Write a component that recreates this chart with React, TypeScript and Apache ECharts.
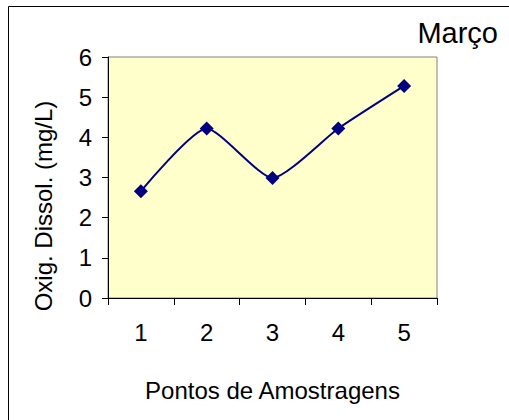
import React, { useEffect, useRef } from "react";
import * as echarts from "echarts";

const categories = ["1", "2", "3", "4", "5"];
const oxygenValues = [2.66, 4.22, 2.99, 4.22, 5.28];
const yMin = 0;
const yMax = 6;
const yInterval = 1;
const titleText = "Março";
const xTitle = "Pontos de Amostragens";
const yTitle = "Oxig. Dissol. (mg/L)";

export default function App() {
  const ref = useRef<HTMLDivElement>(null);
  useEffect(() => {
    if (!ref.current) return;
    const chart = echarts.init(ref.current, null, { renderer: "svg" });
    const font = "'Liberation Sans', Arial, sans-serif";
    chart.setOption({
      animation: false,
      backgroundColor: "#ffffff",
      grid: {
        left: 108,
        top: 57,
        right: 72,
        bottom: 122,
        show: true,
        backgroundColor: "#FFFFCC",
        borderColor: "#808080",
        borderWidth: 1,
      },
      graphic: [
        {
          type: "rect",
          shape: { x: 8.5, y: 6.5, width: 600, height: 600 },
          style: { fill: "none", stroke: "#000000", lineWidth: 1 },
          silent: true,
        },
        {
          type: "text",
          x: 498,
          y: 33,
          style: {
            text: titleText,
            fontFamily: font,
            fontSize: 29,
            fill: "#000000",
            textAlign: "right",
            textVerticalAlign: "middle",
          },
        },
        {
          type: "text",
          x: 43,
          y: 206,
          rotation: Math.PI / 2,
          style: {
            text: yTitle,
            fontFamily: font,
            fontSize: 24,
            fill: "#000000",
            textAlign: "center",
            textVerticalAlign: "middle",
          },
        },
      ],
      xAxis: {
        type: "category",
        data: categories,
        boundaryGap: true,
        name: xTitle,
        nameLocation: "middle",
        nameGap: 80,
        nameTextStyle: { fontFamily: font, fontSize: 24, color: "#000000" },
        axisLine: { show: true, lineStyle: { color: "#000000", width: 1 } },
        axisTick: { show: true, length: 7, lineStyle: { color: "#000000" } },
        axisLabel: { fontFamily: font, fontSize: 24, color: "#000000", margin: 22 },
        splitLine: { show: false },
      },
      yAxis: {
        type: "value",
        min: yMin,
        max: yMax,
        interval: yInterval,
        axisLine: { show: true, lineStyle: { color: "#000000", width: 1 } },
        axisTick: { show: true, length: 6, lineStyle: { color: "#000000" } },
        axisLabel: { fontFamily: font, fontSize: 24, color: "#000000", margin: 16 },
        splitLine: { show: false },
      },
      series: [
        {
          type: "line",
          data: oxygenValues,
          smooth: 0.2,
          symbol: "diamond",
          symbolSize: 14,
          itemStyle: { color: "#000080" },
          lineStyle: { color: "#000080", width: 2 },
        },
      ],
    });
    return () => chart.dispose();
  }, []);
  return (
    <div
      ref={ref}
      style={{ position: "fixed", left: 0, top: 0, width: 509, height: 420 }}
    />
  );
}
